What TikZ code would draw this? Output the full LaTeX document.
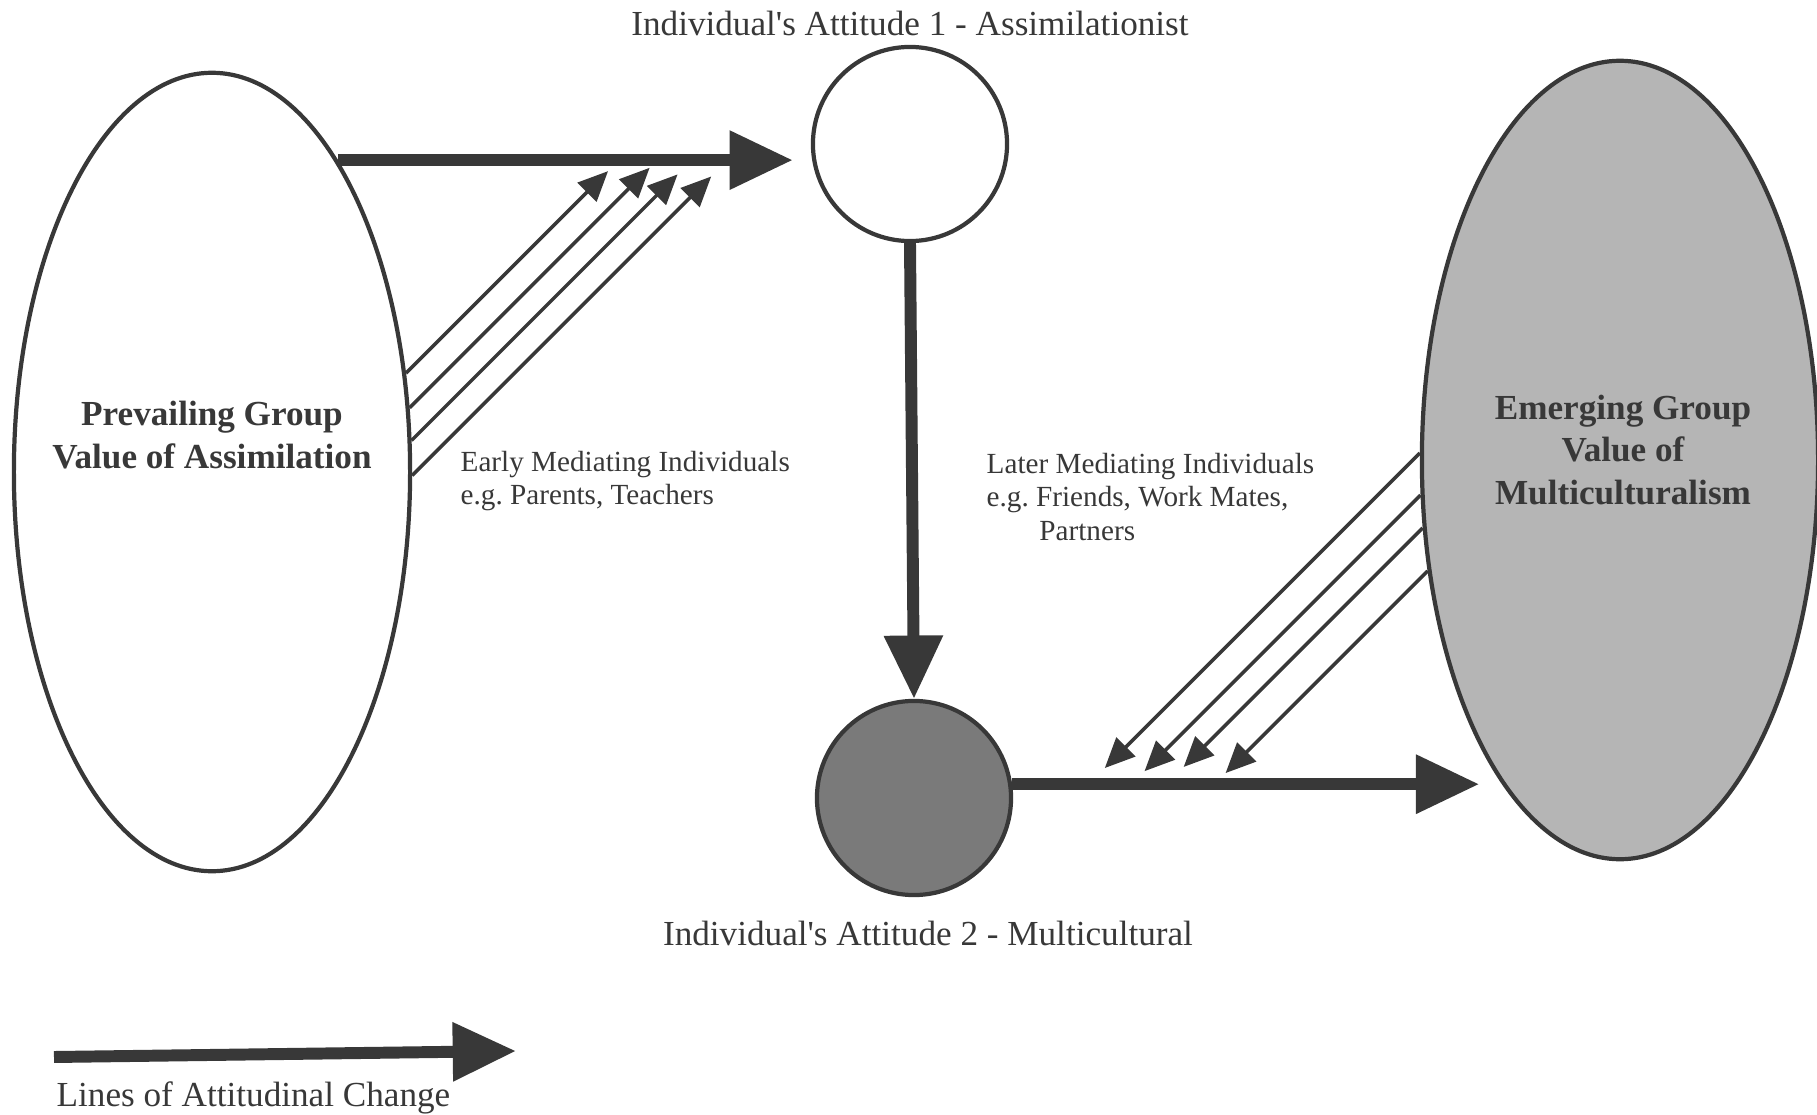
\documentclass[tikz,border=0pt]{standalone}
\usepackage{fontspec}
\setmainfont{Liberation Serif}
\usetikzlibrary{shapes.geometric,arrows.meta}

\definecolor{ink}{gray}{0.22}
\definecolor{darkfill}{gray}{0.48}
\definecolor{lightfill}{gray}{0.71}

\tikzset{
  group/.style={draw=ink, line width=1.2pt, ellipse, minimum width=3.96cm, minimum height=7.98cm},
  person/.style={draw=ink, line width=1.2pt, circle, minimum size=1.94cm, inner sep=0pt},
  change/.style={draw=ink, line width=3.4pt, -{Triangle[length=18pt,width=16pt]}},
  mediate/.style={draw=ink, line width=1pt, -{Triangle[length=8.5pt,width=7.5pt]}},
  valuetext/.style={text=ink, inner sep=0pt, align=center, font=\fontsize{10}{12}\selectfont\bfseries},
  caption/.style={text=ink, inner sep=0pt, font=\fontsize{10}{12}\selectfont},
  medtext/.style={text=ink, inner sep=0pt, align=left, font=\fontsize{8.3}{9.4}\selectfont}
}

\begin{document}
\begin{tikzpicture}[x=0.01cm, y=-0.01cm]
  \useasboundingbox (0,0) rectangle (1817,1115);

  \node[group] (prevailing) at (212,472) {};
  \node[group, fill=lightfill] (emerging) at (1620,460) {};
  \node[person] (att1) at (910,144) {};
  \node[person, fill=darkfill] (att2) at (914,798) {};

  \node[valuetext] (prevtxt) at (212,435) {Prevailing Group\\Value of Assimilation};
  \node[valuetext] (emergtxt) at (1623,450) {Emerging Group\\Value of\\Multiculturalism};

  \node[caption] (title1) at (910,23) {Individual\textquotesingle s Attitude 1 - Assimilationist};
  \node[caption] (title2) at (928,933) {Individual\textquotesingle s Attitude 2 - Multicultural};

  \draw[change, shorten >=0.18cm] (prevailing.68) -- (prevailing.68 -| att1.west);
  \draw[change] (att1.south) -- (att2.north);
  \draw[change, shorten >=0.27cm] (att2.8) -- (att2.8 -| emerging.251);

  \foreach \a/\d in {27/202, 18/240, 9.5/266, 359/299}
    \draw[mediate] (prevailing.\a) -- ++(\d,-\d);
  \foreach \a/\d in {178.5/315, 190/276, 199.5/239, 210.5/202}
    \draw[mediate] (emerging.\a) -- ++(-\d,\d);

  \node[medtext, anchor=west] (early) at (460,481) {Early Mediating Individuals\\e.g.\ Parents, Teachers};
  \node[medtext, anchor=west] (later) at (986,497) {Later Mediating Individuals\\e.g.\ Friends, Work Mates,\\\hspace*{15pt}Partners};

  \coordinate (legstart) at (54,1057);
  \coordinate (legtip) at (516,1051);
  \draw[change] (legstart) -- (legtip);
  \node[caption, anchor=west] (legtxt) at (56,1098) {Lines of Attitudinal Change};
\end{tikzpicture}
\end{document}
